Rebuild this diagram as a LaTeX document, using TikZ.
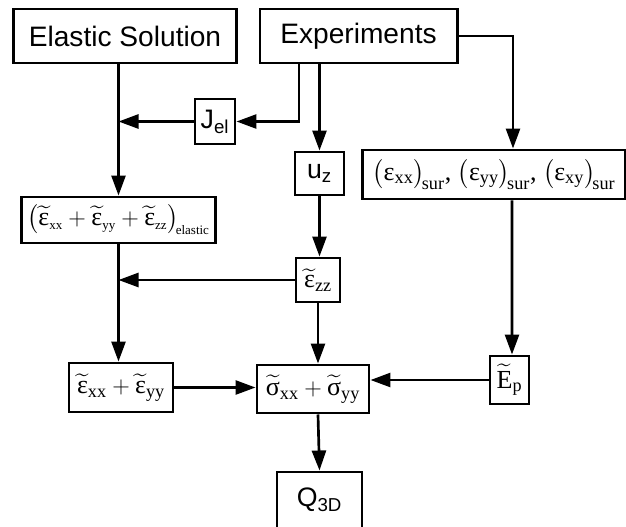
\documentclass[tikz,border=0pt]{standalone}
\usepackage{amsmath}
\usepackage{fontspec}
\setmainfont{Liberation Serif}
\setsansfont{Liberation Sans}
\usepackage{tikz}
\usetikzlibrary{positioning,arrows.meta,calc}

\newcommand{\tld}[1]{\widetilde{\text{#1}}}
\newcommand{\tx}[1]{\text{#1}}

\begin{document}
\begin{tikzpicture}[
    x=0.025cm, y=-0.025cm,
    box/.style={rectangle, draw, line width=2.1pt, inner sep=0pt, align=center},
    sbox/.style={box, font=\sffamily\fontsize{20}{23}\selectfont},
    vbox/.style={box, font=\sffamily\fontsize{19}{22}\selectfont},
    mbox/.style={box, font=\fontsize{18.5}{21}\selectfont},
    arrow/.style={-{Triangle[length=0.5cm, width=0.35cm]}, line width=1.9pt}
]
\useasboundingbox (0,0) rectangle (626,527);

% top row
\node[sbox, minimum width=5.55cm, minimum height=1.35cm] (es) at (125,36) {Elastic Solution};
\node[sbox, minimum width=4.925cm, minimum height=1.35cm] (ex) at (358.5,36) {Experiments};

% measured quantities
\node[vbox, minimum width=1cm, minimum height=1.125cm] (jel) at (215,121.5) {J\textsubscript{el}};
\node[vbox, minimum width=1.225cm, minimum height=1.075cm] (uz) at (319.5,173.5) {u\textsubscript{z}};
\node[mbox, minimum width=6.55cm, minimum height=1.225cm] (sur) at (494,174.5)
    {$\bigl(\tx{ε}_{\tx{xx}}\bigr)_{\!\tx{sur}}$, $\bigl(\tx{ε}_{\tx{yy}}\bigr)_{\!\tx{sur}}$, $\bigl(\tx{ε}_{\tx{xy}}\bigr)_{\!\tx{sur}}$};

% strains
\node[mbox, minimum width=4.825cm, minimum height=1.15cm] (els) at (118.5,220)
    {$\bigl(\tld{ε}_{\scriptscriptstyle\tx{xx}} + \tld{ε}_{\scriptscriptstyle\tx{yy}} + \tld{ε}_{\scriptscriptstyle\tx{zz}}\bigr)_{\!\scriptscriptstyle\tx{elastic}}$};
\node[mbox, minimum width=1.1cm, minimum height=1.1cm] (ezz) at (318,280) {$\tld{ε}_{\tx{zz}}$};

% stresses
\node[mbox, minimum width=2.6cm, minimum height=1.225cm] (exy) at (121,387.5) {$\tld{ε}_{\tx{xx}} + \tld{ε}_{\tx{yy}}$};
\node[mbox, minimum width=2.8cm, minimum height=1.2cm] (sig) at (313,389) {$\tld{σ}_{\tx{xx}} + \tld{σ}_{\tx{yy}}$};
\node[mbox, minimum width=0.975cm, minimum height=1.2cm] (ep) at (509.5,380) {$\tld{E}_{\tx{p}}$};
\node[vbox, minimum width=2.125cm, minimum height=1.4cm] (q) at (319.5,500) {Q\textsubscript{3D}};

% connectors
\draw[arrow] (els.north |- es.south) -- (els.north);
\draw[arrow] ($(ex.south)+(-59.5,0)$) |- (jel.east);
\draw[arrow] (jel.west) -- (jel.west -| els.north);
\draw[arrow] (uz.north |- ex.south) -- (uz.north);
\draw[arrow] (ex.east) -| ($(sur.north)+(19,0)$);
\draw[arrow] (uz.south) -- (uz.south |- ezz.north);
\draw[arrow] (ezz.west) -- (ezz.west -| els.south);
\draw[arrow] (els.south) -- (els.south |- exy.north);
\draw[arrow] (ezz.south) -- (ezz.south |- sig.north);
\draw[arrow] ($(sur.south)+(18,0)$) -- ($(ep.north)+(2.5,0)$);
\draw[arrow] (exy.east) -- (exy.east -| sig.west);
\draw[arrow] (ep.west) -- (ep.west -| sig.east);
\draw[arrow] ($(sig.south)+(5,0)$) -- (q.north);
\end{tikzpicture}
\end{document}
